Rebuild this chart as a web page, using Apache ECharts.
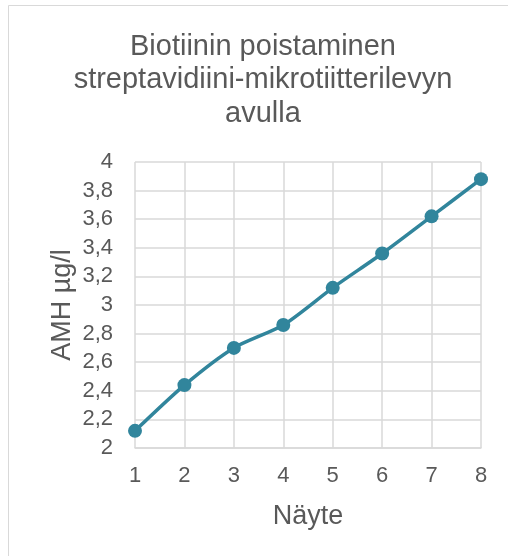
<!DOCTYPE html>
<html><head><meta charset="utf-8">
<script src="https://cdn.jsdelivr.net/npm/echarts@6/dist/echarts.min.js"></script>
<style>html,body{margin:0;padding:0;background:#fff}#c{width:508px;height:556px}</style>
</head><body><div id="c"></div>
<script>
const titleText = 'Biotiinin poistaminen\nstreptavidiini-mikrotiitterilevyn\navulla';
const categories = ['1','2','3','4','5','6','7','8'];
const values = [2.12, 2.44, 2.70, 2.86, 3.12, 3.36, 3.62, 3.88];
const xName = 'Näyte';
const yName = 'AMH µg/l';
const yMin = 2, yMax = 4, yStep = 0.2;

const chart = echarts.init(document.getElementById('c'), null, {renderer:'canvas'});
const font = '"Liberation Sans", Arial, sans-serif';
chart.setOption({
  animation: false,
  backgroundColor: '#fff',
  graphic: [{
    type: 'rect', shape: {x: 8.5, y: 5.5, width: 600, height: 700},
    style: {fill: 'none', stroke: '#d9d9d9', lineWidth: 1}, silent: true
  }],
  title: {
    text: titleText, left: 258, textAlign: 'center', top: 25,
    textStyle: {fontFamily: font, fontSize: 29, fontWeight: 'normal', color: '#595959', lineHeight: 33.5}
  },
  grid: {left: 135, right: 27, top: 162, bottom: 108},
  xAxis: {
    type: 'category', data: categories, boundaryGap: false,
    name: xName, nameLocation: 'middle', nameGap: 55, nameMoveOverlap: false,
    nameTextStyle: {fontFamily: font, fontSize: 27, color: '#595959'},
    axisLine: {lineStyle: {color: '#d9d9d9', width: 1.5}},
    axisTick: {show: false},
    axisLabel: {fontFamily: font, fontSize: 22, color: '#595959', margin: 17},
    splitLine: {show: true, lineStyle: {color: '#d9d9d9', width: 1.5}}
  },
  yAxis: {
    type: 'value', min: yMin, max: yMax, interval: yStep,
    name: yName, nameLocation: 'middle', nameGap: 59, nameMoveOverlap: false,
    nameTextStyle: {fontFamily: font, fontSize: 27, color: '#595959'},
    axisLine: {show: false}, axisTick: {show: false},
    axisLabel: {fontFamily: font, fontSize: 22, color: '#595959', margin: 22,
      formatter: v => String(+v.toFixed(1)).replace('.', ',')},
    splitLine: {lineStyle: {color: '#d9d9d9', width: 1.5}}
  },
  series: [{
    type: 'line', data: values, smooth: 0.25,
    symbol: 'circle', symbolSize: 14,
    lineStyle: {color: '#31859c', width: 3.5},
    itemStyle: {color: '#31859c'}
  }]
});
</script></body></html>
